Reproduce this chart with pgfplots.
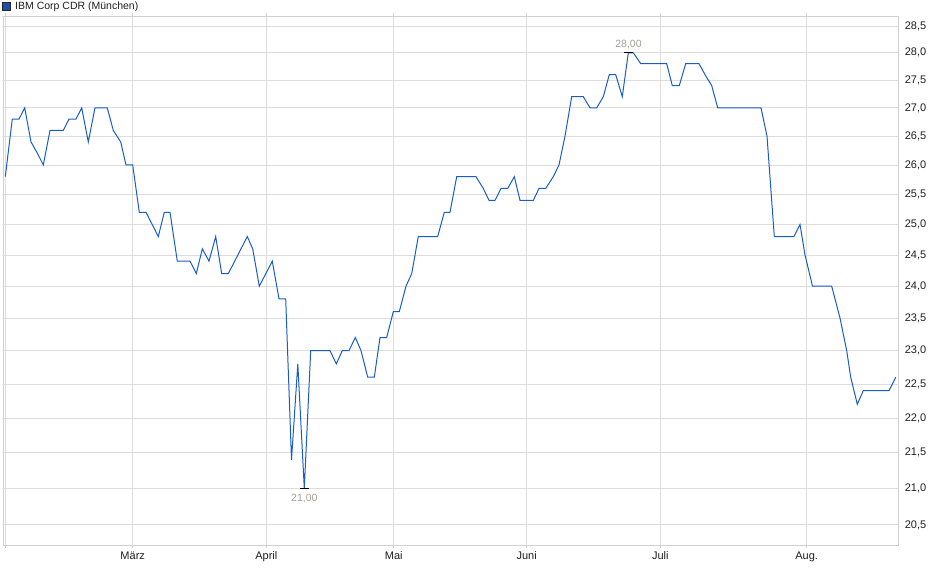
\documentclass[border=0pt]{standalone}
\usepackage{fontspec}
\setmainfont{Liberation Sans}
\usepackage{pgfplots}
\pgfplotsset{compat=1.18}
\definecolor{lineblue}{RGB}{25,92,200}
\definecolor{gridgray}{RGB}{221,221,221}
\definecolor{framegray}{RGB}{208,208,208}
\definecolor{annot}{RGB}{165,158,150}
\definecolor{iconblue}{RGB}{30,80,170}
\definecolor{txt}{RGB}{30,30,30}
\begin{document}
\begin{tikzpicture}
\useasboundingbox (0,0) rectangle (940pt,579pt);
\fill[fill=iconblue, draw=black!85, line width=0.7pt] (2pt,568.3pt) rectangle (10.7pt,576.3pt);
\node[anchor=west, inner sep=0pt, font=\fontsize{10.5}{12}\selectfont, text=txt] at (15pt,572.3pt) {IBM Corp CDR (München)};
\begin{axis}[
  at={(3pt,34pt)}, anchor=south west,
  scale only axis, width=895.3pt, height=529pt,
  xmin=3, xmax=898.3,
  ymode=log, ymin=20.23, ymax=28.69,
  axis line style={framegray, line width=0.8pt},
  grid=major, grid style={gridgray, line width=0.8pt},
  xtick={5.7,132.7,266.3,393.7,526.7,660.3,806.7},
  xticklabels={,März,April,Mai,Juni,Juli,Aug.},
  xtick style={framegray, line width=0.8pt},
  major tick length=3pt, tick align=outside,
  ytick={20.5,21,21.5,22,22.5,23,23.5,24,24.5,25,25.5,26,26.5,27,27.5,28,28.5},
  yticklabels={{20,5},{21,0},{21,5},{22,0},{22,5},{23,0},{23,5},{24,0},{24,5},{25,0},{25,5},{26,0},{26,5},{27,0},{27,5},{28,0},{28,5}},
  ytick style={draw=none},
  yticklabel pos=right,
  ticklabel style={font=\fontsize{11}{12}\selectfont, text=txt},
  /pgf/number format/assume math mode=true,
  clip=false,
]
\addplot[lineblue, line width=1pt] coordinates {
(5.3,25.8) (12.3,26.8) (19.0,26.8) (24.7,27.0) (31.0,26.4) (37.5,26.2) (43.3,26.0)
(50.0,26.6) (63.3,26.6) (69.0,26.8) (76.0,26.8) (81.7,27.0) (88.3,26.4) (95.0,27.0)
(107.3,27.0) (113.3,26.6) (120.7,26.4) (126.0,26.0) (132.7,26.0) (139.3,25.2) (146.0,25.2)
(158.3,24.8) (164.3,25.2) (170.0,25.2) (177.3,24.4) (190.0,24.4) (196.3,24.2) (202.3,24.6)
(209.0,24.4) (215.7,24.8) (221.7,24.2) (228.3,24.2) (247.3,24.8) (252.7,24.6) (259.3,24.0)
(272.3,24.4) (279.0,23.8) (285.7,23.8) (291.5,21.4) (297.8,22.8) (304.3,21.0) (310.7,23.0)
(330.0,23.0) (336.3,22.8) (342.3,23.0) (349.0,23.0) (355.3,23.2) (361.0,23.0) (367.7,22.6)
(374.3,22.6) (380.0,23.2) (386.7,23.2) (393.3,23.6) (399.3,23.6) (406.0,24.0) (411.7,24.2)
(418.3,24.8) (437.7,24.8) (444.3,25.2) (450.0,25.2) (456.7,25.8) (476.0,25.8) (483.3,25.6)
(489.0,25.4) (495.0,25.4) (501.0,25.6) (507.7,25.6) (514.3,25.8) (520.0,25.4) (533.3,25.4)
(539.0,25.6) (545.7,25.6) (553.3,25.8) (559.0,26.0) (565.0,26.5) (571.7,27.2) (583.3,27.2)
(590.0,27.0) (596.7,27.0) (603.3,27.2) (609.3,27.6) (615.7,27.6) (622.3,27.2) (628.3,28.0)
(633.3,28.0) (640.7,27.8) (666.7,27.8) (672.3,27.4) (679.3,27.4) (685.7,27.8) (699.0,27.8)
(705.0,27.6) (711.7,27.4) (717.7,27.0) (761.0,27.0) (767.0,26.5) (774.3,24.8) (794.0,24.8)
(800.0,25.0) (805.0,24.5) (812.5,24.0) (831.7,24.0) (840.0,23.5) (846.7,23.0) (850.7,22.6)
(857.3,22.2) (863.3,22.4) (889.0,22.4) (895.7,22.6)
};
\addplot[black, line width=1pt] coordinates {(624.3,28.0) (633.3,28.0)};
\addplot[black, line width=1pt] coordinates {(300.0,21.0) (309.0,21.0)};
\node[annot, font=\fontsize{10.5}{12}\selectfont, anchor=south, inner sep=0pt] at (axis cs:628.5,28.07) {28,00};
\node[annot, font=\fontsize{10.5}{12}\selectfont, anchor=north, inner sep=0pt] at (axis cs:304.3,20.92) {21,00};
\end{axis}
\end{tikzpicture}
\end{document}
